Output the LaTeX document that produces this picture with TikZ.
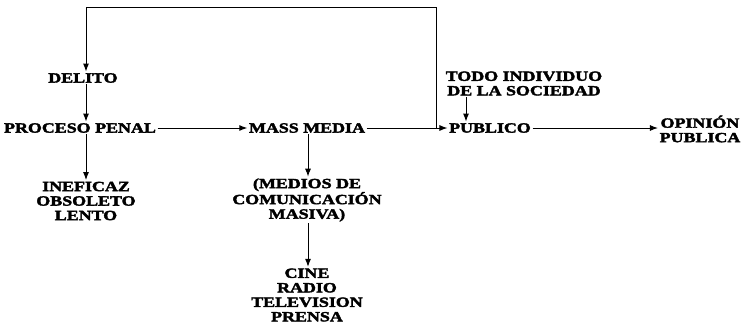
\documentclass[tikz,border=0pt]{standalone}
\usepackage{fontspec}
\newfontfamily\diagfont{Liberation Serif}[FakeStretch=1.28, BoldFeatures={FakeBold=2.6}]
\usetikzlibrary{arrows.meta}
\begin{document}
\begin{tikzpicture}[x=1pt,y=1pt,
  lbl/.style={font=\diagfont\bfseries\fontsize{14}{14.5}\selectfont, inner sep=1.5pt, align=center},
  arr/.style={line width=1pt, arrows={-Latex[length=8pt,width=6pt]}}]
\useasboundingbox (0,0) rectangle (747,-324);
% nodes
\node[lbl] (delito) at (83,-78) {DELITO};
\node[lbl] (proceso) at (80,-128) {PROCESO PENAL};
\node[lbl] (mass) at (307,-128) {MASS MEDIA};
\node[lbl] (publico) at (490,-128) {PUBLICO};
\node[lbl] (opinion) at (700,-129) {OPINIÓN\\PUBLICA};
\node[lbl] (todo) at (524,-83.5) {TODO INDIVIDUO\\DE LA SOCIEDAD};
\node[lbl] (ineficaz) at (86,-201) {INEFICAZ\\OBSOLETO\\LENTO};
\node[lbl] (medios) at (307,-200) {(MEDIOS DE\\COMUNICACIÓN\\MASIVA)};
\node[lbl] (cine) at (307,-295) {CINE\\RADIO\\TELEVISION\\PRENSA};
% helper coordinates
\coordinate (lx) at (86,0);
\coordinate (mx) at (308,0);
\coordinate (tx) at (466,0);
\coordinate (rx) at (436,-128);
\coordinate (top) at (0,-7);
% connectors
\draw[arr] (delito.south -| lx) -- (proceso.north -| lx);
\draw[arr] (proceso.south -| lx) -- (ineficaz.north -| lx);
\draw[arr] (proceso.east) -- (mass.west);
\draw[arr] (mass.east) -- (publico.west);
\draw[arr] (publico.east) -- (opinion.west |- publico.east);
\draw[arr] (todo.south -| tx) -- (publico.north -| tx);
\draw[arr] (mass.south -| mx) -- (medios.north -| mx);
\draw[arr] (medios.south -| mx) -- (cine.north -| mx);
\draw[arr] (rx) -- (rx |- top) -- (lx |- top) -- (delito.north -| lx);
\end{tikzpicture}
\end{document}
